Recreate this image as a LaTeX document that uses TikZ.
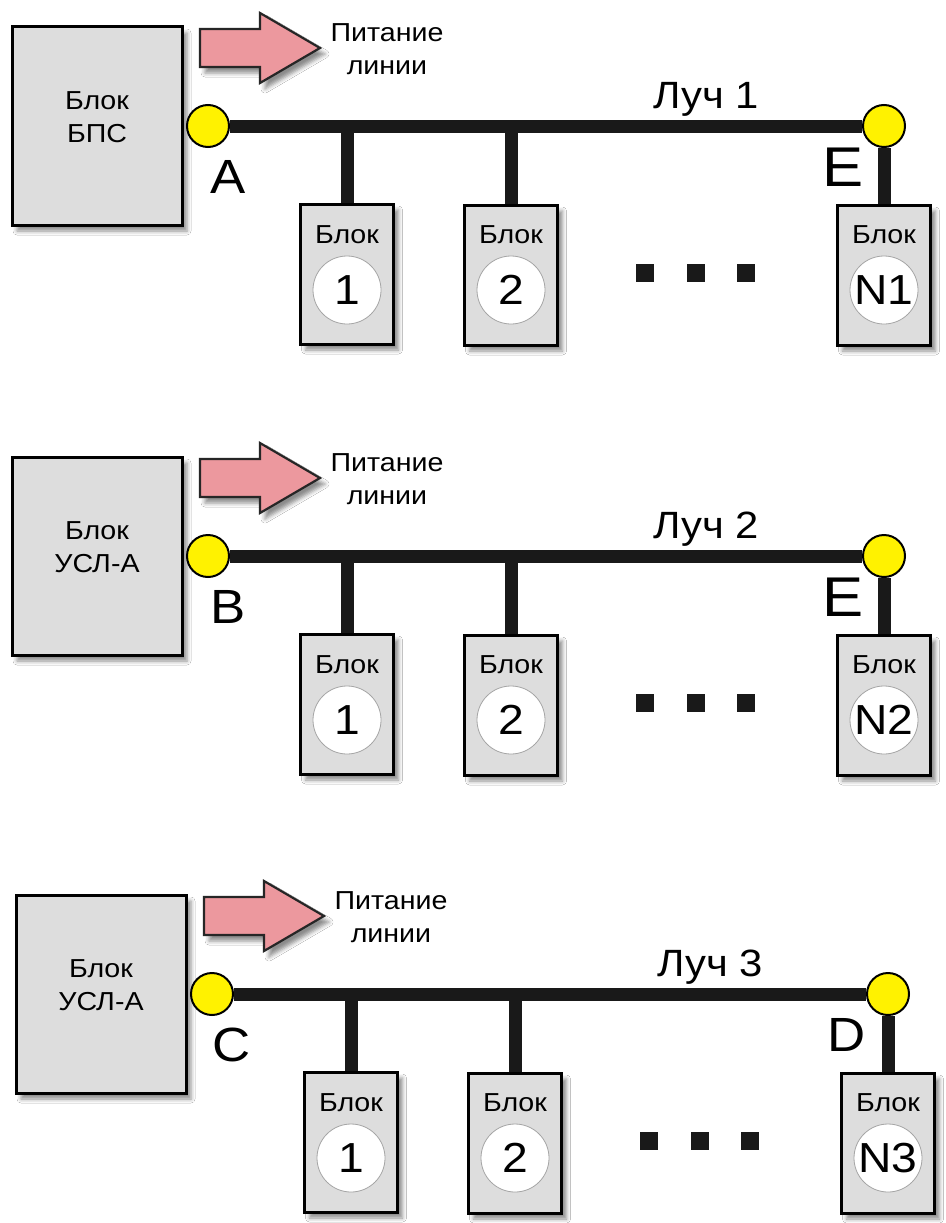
\documentclass[tikz,border=0pt]{standalone}
\usepackage{fontspec}
\setmainfont{Liberation Sans}[FakeStretch=1.1]
\usetikzlibrary{shadows.blur}
\definecolor{boxgray}{RGB}{221,221,221}
\definecolor{arrowpink}{RGB}{236,152,158}
\definecolor{ringgray}{RGB}{165,165,165}
\begin{document}
\begin{tikzpicture}[x=1pt,y=-1pt,
  shd/.style={blur shadow={shadow xshift=5pt,shadow yshift=-6pt,shadow blur radius=4pt,shadow opacity=45}},
  bigbox/.style={draw,line width=3pt,fill=boxgray,minimum width=170pt,minimum height=198pt,inner sep=0pt,shd},
  smallbox/.style={draw,line width=3pt,fill=boxgray,minimum width=93pt,minimum height=140pt,inner sep=0pt,shd},
  powarrow/.style={draw=black!85,line width=2.2pt,fill=arrowpink,line join=miter,shd},
  txt/.style={inner sep=0pt,font=\fontsize{26}{33}\selectfont},
  numring/.style={circle,draw=ringgray,line width=0.8pt,fill=white,minimum size=68pt,inner sep=0pt,font=\fontsize{42}{42}\selectfont},
  joint/.style={circle,draw=black,line width=2pt,fill=yellow,minimum size=42pt,inner sep=0pt},
  bus/.style={line width=13pt,draw=black!90},
  dotsq/.style={fill=black!90,minimum size=18pt,inner sep=0pt},
  letter/.style={inner sep=0pt,font=\fontsize{#1}{#1}\selectfont},
]
\useasboundingbox[fill=white] (0,0) rectangle (945,1223);
\foreach \i/\dx/\dy/\nm/\L/\R/\Rs/\N in {1/0/0/БПС/A/E/56/N1, 2/0/430/УСЛ-А/B/E/56/N2, 3/4/868/УСЛ-А/C/D/48/N3}{
  \begin{scope}[shift={(\dx,\dy)}]
    % source block
    \node[bigbox] (big\i) at (97,126) {};
    \node[txt,align=center] (bigt\i) at (97,117) {Блок\\\nm};
    % power arrow
    \path[powarrow] (200,29) -- (260,29) -- (260,13) -- (320,48) -- (260,83) -- (260,67) -- (200,67) -- cycle;
    \node[txt,align=center] (pow\i) at (387,49) {Питание\\линии};
    % end points
    \node[joint] (S\i) at (208,126) {};
    \node[joint] (T\i) at (884,126) {};
    \node[letter=48] (Sl\i) at (228,177) {\L};
    \node[letter=\Rs] (Tl\i) at (843,167) {\R};
    \node[letter=38,anchor=base] (ray\i) at (706,108) {Луч \i};
    % blocks
    \node[smallbox] (b1\i) at (347,274) {};
    \node[smallbox] (b2\i) at (511,275) {};
    \node[smallbox] (bN\i) at (884,275) {};
    \node[txt] (b1t\i) at (347,235) {Блок};
    \node[txt] (b2t\i) at (511,235) {Блок};
    \node[txt] (bNt\i) at (884,235) {Блок};
    \node[numring] (c1\i) at (347,290) {1};
    \node[numring] (c2\i) at (511,290) {2};
    \node[numring] (cN\i) at (884,290) {\N};
    % bus
    \coordinate (j1\i) at (347,126);
    \coordinate (j2\i) at (511,126);
    \draw[bus] (S\i) -- (T\i);
    \draw[bus] (j1\i) -- (b1\i.north);
    \draw[bus] (j2\i) -- (b2\i.north);
    \draw[bus] (T\i) -- (bN\i.north);
    % dots
    \node[dotsq] (d1\i) at (645,273) {};
    \node[dotsq] (d2\i) at (696,273) {};
    \node[dotsq] (d3\i) at (746,273) {};
  \end{scope}
}
\end{tikzpicture}
\end{document}
